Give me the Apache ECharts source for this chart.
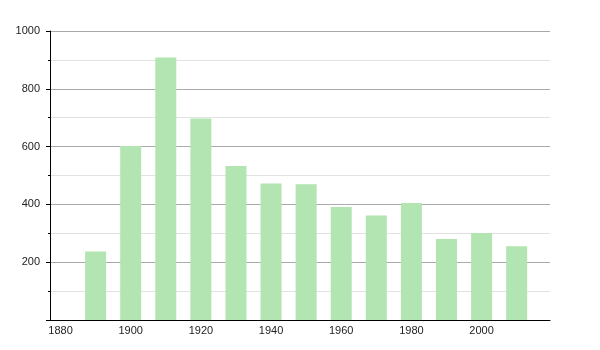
<!DOCTYPE html>
<html>
<head>
<meta charset="utf-8">
<script src="https://cdn.jsdelivr.net/npm/echarts@6/dist/echarts.min.js"></script>
<style>html,body{margin:0;padding:0;background:#fff}#c{width:600px;height:350px}</style>
</head>
<body>
<div id="c"></div>
<script>
var years = [1890, 1900, 1910, 1920, 1930, 1940, 1950, 1960, 1970, 1980, 1990, 2000, 2010];
var population = [237, 602, 908, 697, 533, 472, 470, 391, 362, 405, 280, 301, 255];
var xTickLabels = [1880, 1900, 1920, 1940, 1960, 1980, 2000];

var chart = echarts.init(document.getElementById('c'));
chart.setOption({
  animation: false,
  backgroundColor: '#fff',
  textStyle: { fontFamily: 'Liberation Sans, Arial, sans-serif' },
  grid: { left: 50, right: 50, top: 31, bottom: 30, containLabel: false },
  xAxis: {
    type: 'value',
    min: 1877,
    max: 2019.5,
    axisLine: { show: true, onZero: false, lineStyle: { color: '#000', width: 1 } },
    axisTick: { show: false },
    splitLine: { show: false },
    axisLabel: {
      customValues: xTickLabels,
      color: '#222', fontSize: 11, margin: 5,
      formatter: function (v) { return String(v); }
    }
  },
  yAxis: {
    type: 'value',
    min: 0, max: 1000, interval: 200,
    axisLine: { show: true, lineStyle: { color: '#000', width: 1 } },
    axisTick: { show: true, length: 4, lineStyle: { color: '#000' } },
    minorTick: { show: true, splitNumber: 2, length: 2, lineStyle: { color: '#000' } },
    splitLine: { show: true, lineStyle: { color: '#aaaaaa', width: 1 } },
    minorSplitLine: { show: true, lineStyle: { color: '#e2e2e2', width: 1 } },
    axisLabel: {
      showMinLabel: false, color: '#222', fontSize: 11, margin: 10,
      formatter: function (v) { return String(v); }
    }
  },
  series: [{
    type: 'bar',
    data: years.map(function (y, i) { return [y, population[i]]; }),
    barWidth: 21,
    itemStyle: { color: '#b2e5b2' },
    z: 3
  }]
});
</script>
</body>
</html>
